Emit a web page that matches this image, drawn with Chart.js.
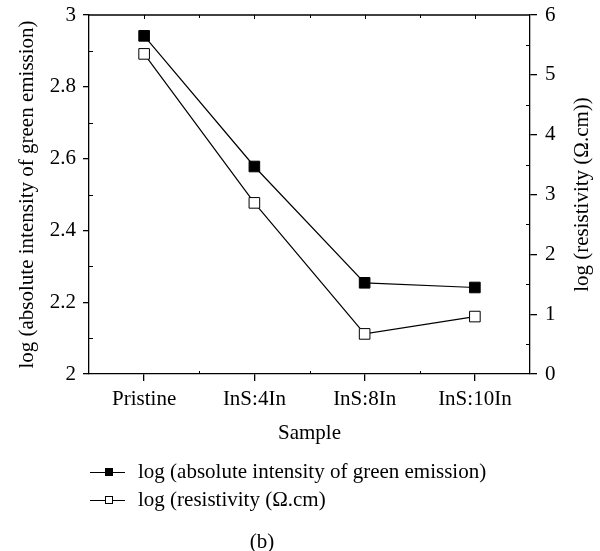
<!DOCTYPE html>
<html>
<head>
<meta charset="utf-8">
<script src="https://cdn.jsdelivr.net/npm/chart.js@4"></script>
<style>
  html, body { margin: 0; padding: 0; background: #fff; }
  #wrap { position: relative; width: 600px; height: 551px; }
  canvas { position: absolute; left: 0; top: 0; }
  .leg { position: absolute; font-family: "Liberation Serif", serif; font-size: 21px; color: #000; white-space: nowrap; line-height: 1; }
  .mk { position: absolute; height: 1px; background: #000; }
  .sq { position: absolute; width: 8px; height: 8px; box-sizing: border-box; border: 1px solid #000; }
</style>
</head>
<body>
<div id="wrap">
  <canvas id="c" width="600" height="551"></canvas>
  <div class="mk" style="left:90px; top:472px; width:35px;"></div>
  <div class="sq" style="left:105px; top:468px; background:#000;"></div>
  <div class="leg" style="left:138px; top:461px;">log (absolute intensity of green emission)</div>
  <div class="mk" style="left:90px; top:500px; width:35px;"></div>
  <div class="sq" style="left:105px; top:496px; background:#fff;"></div>
  <div class="leg" style="left:138px; top:489px;">log (resistivity (Ω.cm)</div>
  <div class="leg" style="left:0; width:600px; text-align:center; margin-left:-38px; top:531px;">(b)</div>
</div>
<script>
const categories = ['Pristine', 'InS:4In', 'InS:8In', 'InS:10In'];
const greenEmission = [2.942, 2.578, 2.254, 2.241];
const resistivity = [5.35, 2.86, 0.67, 0.96];
const leftTicks = [2, 2.2, 2.4, 2.6, 2.8, 3];
const rightTicks = [0, 1, 2, 3, 4, 5, 6];
const rightTitle = 'log (resistivity (Ω.cm))';

const FONT = "'Liberation Serif', serif";

const framePlugin = {
  id: 'frame',
  afterDraw(chart) {
    const ctx = chart.ctx;
    const a = chart.chartArea;
    const x = chart.scales.x, yl = chart.scales.y, yr = chart.scales.y1;
    ctx.save();
    ctx.strokeStyle = '#000';
    ctx.lineWidth = 1.3;
    ctx.beginPath();
    ctx.moveTo(a.left, a.top);
    ctx.lineTo(a.right, a.top);
    ctx.stroke();
    ctx.lineWidth = 1;
    ctx.beginPath();
    for (let i = 0; i < leftTicks.length - 1; i++) {
      const v = (leftTicks[i] + leftTicks[i + 1]) / 2;
      const py = Math.round(yl.getPixelForValue(v)) + 0.5;
      ctx.moveTo(a.left, py); ctx.lineTo(a.left + 4, py);
    }
    for (let i = 0; i < rightTicks.length - 1; i++) {
      const v = (rightTicks[i] + rightTicks[i + 1]) / 2;
      const py = Math.round(yr.getPixelForValue(v)) + 0.5;
      ctx.moveTo(a.right, py); ctx.lineTo(a.right - 4, py);
    }
    for (let i = 0; i < categories.length; i++) {
      const px = Math.round(x.getPixelForValue(i)) + 0.5;
      ctx.moveTo(px, a.top); ctx.lineTo(px, a.top + 4);
      if (i < categories.length - 1) {
        const mx = Math.round(x.getPixelForValue(i + 0.5)) + 0.5;
        ctx.moveTo(mx, a.top); ctx.lineTo(mx, a.top + 3);
        ctx.moveTo(mx, a.bottom); ctx.lineTo(mx, a.bottom - 3);
      }
    }
    ctx.stroke();
    ctx.fillStyle = '#000';
    ctx.font = "21px " + FONT;
    ctx.textAlign = 'center';
    ctx.textBaseline = 'middle';
    ctx.translate(582, (a.top + a.bottom) / 2);
    ctx.rotate(-Math.PI / 2);
    ctx.fillText(rightTitle, 0, 0);
    ctx.restore();
  }
};

const fmt = v => String(parseFloat(Number(v).toFixed(2)));

new Chart(document.getElementById('c'), {
  type: 'line',
  data: {
    labels: categories,
    datasets: [
      {
        label: 'log (absolute intensity of green emission)',
        data: greenEmission,
        yAxisID: 'y',
        borderColor: '#000',
        borderWidth: 1.2,
        backgroundColor: '#000',
        pointStyle: 'rect',
        pointRadius: 7.5,
        pointBorderWidth: 1,
        pointBorderColor: '#000',
        pointBackgroundColor: '#000',
        tension: 0
      },
      {
        label: 'log (resistivity (Ω.cm)',
        data: resistivity,
        yAxisID: 'y1',
        borderColor: '#000',
        borderWidth: 1.2,
        backgroundColor: '#fff',
        pointStyle: 'rect',
        pointRadius: 7.5,
        pointBorderWidth: 1,
        pointBorderColor: '#000',
        pointBackgroundColor: '#fff',
        tension: 0
      }
    ]
  },
  options: {
    responsive: false,
    animation: false,
    devicePixelRatio: 1,
    layout: { padding: { top: 15, left: 0, right: 0, bottom: 0 } },
    plugins: { legend: { display: false }, tooltip: { enabled: false } },
    scales: {
      x: {
        type: 'category',
        offset: true,
        afterFit(s) { s.height = 177; s.paddingLeft = 0; s.paddingRight = 0; },
        grid: { offset: false, drawOnChartArea: false, drawTicks: true, tickLength: 7, color: '#000', lineWidth: 1.3 },
        border: { display: true, color: '#000', width: 1.3 },
        ticks: { color: '#000', font: { family: FONT, size: 21 }, padding: 6, maxRotation: 0, autoSkip: false },
        title: { display: true, text: 'Sample', color: '#000', font: { family: FONT, size: 21 }, padding: { top: 0, bottom: 105 } }
      },
      y: {
        type: 'linear',
        position: 'left',
        min: 2, max: 3,
        afterFit(s) { s.width = 89; s.paddingTop = 0; s.paddingBottom = 0; },
        afterBuildTicks(s) { s.ticks = leftTicks.map(v => ({ value: v })); },
        grid: { drawOnChartArea: false, drawTicks: true, tickLength: 6, color: '#000', lineWidth: 1.3 },
        border: { display: true, color: '#000', width: 1.3 },
        ticks: { color: '#000', font: { family: FONT, size: 21 }, padding: 7, callback: fmt },
        title: { display: true, text: 'log (absolute intensity of green emission)', color: '#000', font: { family: FONT, size: 21 }, padding: { top: 15, bottom: 0 } }
      },
      y1: {
        type: 'linear',
        position: 'right',
        min: 0, max: 6,
        afterFit(s) { s.width = 70; s.paddingTop = 0; s.paddingBottom = 0; },
        afterBuildTicks(s) { s.ticks = rightTicks.map(v => ({ value: v })); },
        grid: { drawOnChartArea: false, drawTicks: true, tickLength: 7, color: '#000', lineWidth: 1.3 },
        border: { display: true, color: '#000', width: 1.3 },
        ticks: { color: '#000', font: { family: FONT, size: 21 }, padding: 8, callback: fmt },
        title: { display: false }
      }
    }
  },
  plugins: [framePlugin]
});
</script>
</body>
</html>
